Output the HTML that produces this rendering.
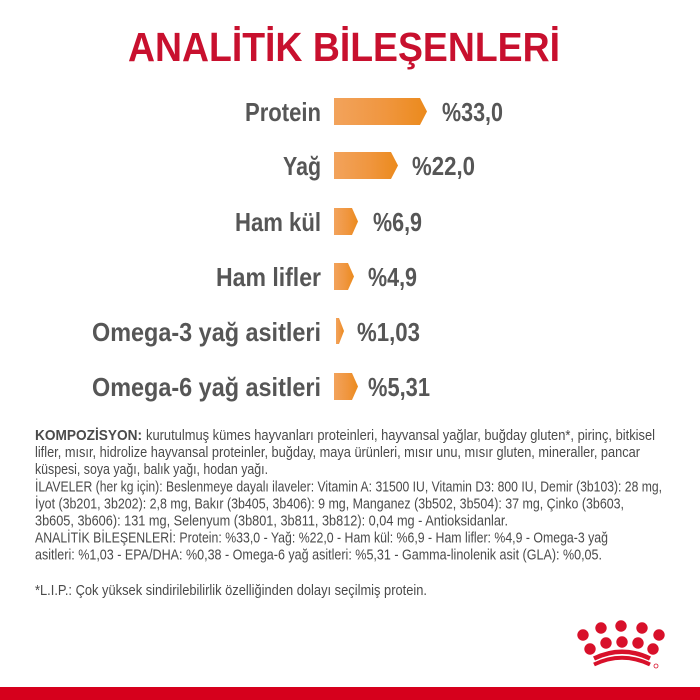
<!DOCTYPE html>
<html><head><meta charset="utf-8"><style>
html,body{margin:0;padding:0;background:#fff;}
svg{display:block;}
</style></head><body>
<svg width="700" height="700" viewBox="0 0 700 700" xmlns="http://www.w3.org/2000/svg">
<defs>
<linearGradient id="g" x1="0" y1="0" x2="1" y2="0">
<stop offset="0" stop-color="#f2a35c"/>
<stop offset="0.55" stop-color="#f0963f"/>
<stop offset="1" stop-color="#eb8a1c"/>
</linearGradient>
</defs>
<rect width="700" height="700" fill="#fff"/>
<text x="128" y="61" font-family="Liberation Sans, sans-serif" font-weight="bold" font-size="41" fill="#c8102e" textLength="432" lengthAdjust="spacingAndGlyphs">ANALİTİK BİLEŞENLERİ</text>

<g font-family="Liberation Sans, sans-serif" font-weight="bold" font-size="26" fill="#565656">
<text x="321" y="121" text-anchor="end" textLength="76" lengthAdjust="spacingAndGlyphs">Protein</text>
<text x="321" y="175" text-anchor="end" textLength="38" lengthAdjust="spacingAndGlyphs">Yağ</text>
<text x="321" y="231" text-anchor="end" textLength="86" lengthAdjust="spacingAndGlyphs">Ham kül</text>
<text x="321" y="286" text-anchor="end" textLength="105" lengthAdjust="spacingAndGlyphs">Ham lifler</text>
<text x="321" y="341" text-anchor="end" textLength="229" lengthAdjust="spacingAndGlyphs">Omega-3 yağ asitleri</text>
<text x="321" y="396" text-anchor="end" textLength="229" lengthAdjust="spacingAndGlyphs">Omega-6 yağ asitleri</text>

<text x="442" y="121" textLength="61" lengthAdjust="spacingAndGlyphs">%33,0</text>
<text x="412" y="175" textLength="63" lengthAdjust="spacingAndGlyphs">%22,0</text>
<text x="373" y="231" textLength="49" lengthAdjust="spacingAndGlyphs">%6,9</text>
<text x="368" y="286" textLength="49" lengthAdjust="spacingAndGlyphs">%4,9</text>
<text x="357" y="341" textLength="63" lengthAdjust="spacingAndGlyphs">%1,03</text>
<text x="368" y="396" textLength="62" lengthAdjust="spacingAndGlyphs">%5,31</text>
</g>

<g fill="url(#g)">
<polygon points="334,98 420,98 427,111.5 420,125 334,125"/>
<polygon points="334,152 391,152 398,165.5 391,179 334,179"/>
<polygon points="334,208 352,208 358,221.5 352,235 334,235"/>
<polygon points="334,263 348,263 354,276.5 348,290 334,290"/>
<polygon points="336,318 339,318 344,331 339,344 336,344"/>
<polygon points="334,373 352,373 358,386.5 352,400 334,400"/>
</g>

<g font-family="Liberation Sans, sans-serif" font-size="15" fill="#4a4a4a">
<text x="35" y="440" font-weight="bold" textLength="107" lengthAdjust="spacingAndGlyphs">KOMPOZİSYON:</text>
<text x="146" y="440" textLength="509" lengthAdjust="spacingAndGlyphs">kurutulmuş kümes hayvanları proteinleri, hayvansal yağlar, buğday gluten*, pirinç, bitkisel</text>
<text x="35" y="457.1" textLength="605" lengthAdjust="spacingAndGlyphs">lifler, mısır, hidrolize hayvansal proteinler, buğday, maya ürünleri, mısır unu, mısır gluten, mineraller, pancar</text>
<text x="35" y="474.2" textLength="233" lengthAdjust="spacingAndGlyphs">küspesi, soya yağı, balık yağı, hodan yağı.</text>
<text x="35" y="491.3" textLength="627" lengthAdjust="spacingAndGlyphs">İLAVELER (her kg için): Beslenmeye dayalı ilaveler: Vitamin A: 31500 IU, Vitamin D3: 800 IU, Demir (3b103): 28 mg,</text>
<text x="35" y="508.4" textLength="589" lengthAdjust="spacingAndGlyphs">İyot (3b201, 3b202): 2,8 mg, Bakır (3b405, 3b406): 9 mg, Manganez (3b502, 3b504): 37 mg, Çinko (3b603,</text>
<text x="35" y="525.5" textLength="473" lengthAdjust="spacingAndGlyphs">3b605, 3b606): 131 mg, Selenyum (3b801, 3b811, 3b812): 0,04 mg - Antioksidanlar.</text>
<text x="35" y="542.6" textLength="573" lengthAdjust="spacingAndGlyphs">ANALİTİK BİLEŞENLERİ: Protein: %33,0 - Yağ: %22,0 - Ham kül: %6,9 - Ham lifler: %4,9 - Omega-3 yağ</text>
<text x="35" y="559.7" textLength="567" lengthAdjust="spacingAndGlyphs">asitleri: %1,03 - EPA/DHA: %0,38 - Omega-6 yağ asitleri: %5,31 - Gamma-linolenik asit (GLA): %0,05.</text>
<text x="35" y="595" textLength="392" lengthAdjust="spacingAndGlyphs">*L.I.P.: Çok yüksek sindirilebilirlik özelliğinden dolayı seçilmiş protein.</text>
</g>

<g fill="#d8102a">
<circle cx="583" cy="635" r="5.7"/>
<circle cx="601" cy="628" r="5.7"/>
<circle cx="621" cy="626" r="5.7"/>
<circle cx="642" cy="628" r="5.7"/>
<circle cx="659" cy="635" r="5.7"/>
<circle cx="590" cy="649" r="5.7"/>
<circle cx="606" cy="643" r="5.7"/>
<circle cx="622" cy="642" r="5.7"/>
<circle cx="638" cy="643" r="5.7"/>
<circle cx="653" cy="649" r="5.7"/>
</g>
<path d="M 594 658.5 Q 622 645 650 658.5" stroke="#d8102a" stroke-width="4.5" fill="none"/>
<path d="M 594 664.5 Q 622 651 650 664.5" stroke="#d8102a" stroke-width="4" fill="none"/>
<circle cx="656" cy="666" r="2" fill="none" stroke="#d8102a" stroke-width="0.8"/>

<rect x="0" y="687" width="700" height="13" fill="#d6001c"/>
</svg>
</body></html>
